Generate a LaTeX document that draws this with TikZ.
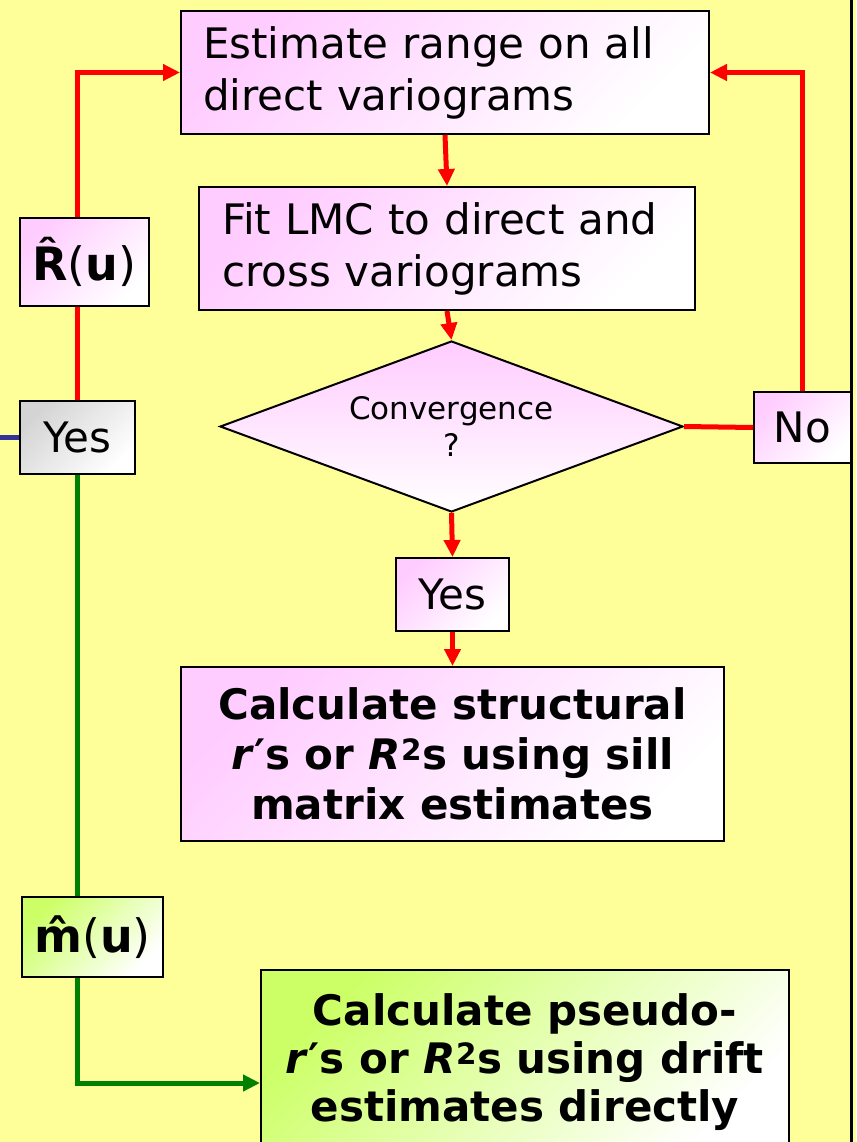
\documentclass[tikz,border=0pt]{standalone}
\usepackage{fontspec}
\setmainfont{DejaVu Sans}
\usetikzlibrary{arrows.meta,shapes.geometric}

\definecolor{slideyellow}{RGB}{255,255,153}
\definecolor{boxpink}{RGB}{255,204,255}
\definecolor{boxgreen}{RGB}{204,255,102}
\definecolor{boxgrey}{RGB}{212,212,212}
\definecolor{flowred}{RGB}{255,0,0}
\definecolor{flowgreen}{RGB}{0,128,0}
\definecolor{flowblue}{RGB}{51,51,153}

\begin{document}
\begin{tikzpicture}[
    x=1pt, y=-1pt, >={Triangle[length=17pt,width=16pt]},
    box/.style={draw=black, line width=2pt, inner sep=0pt, align=center,
      font=\fontsize{42}{52}\selectfont},
    pinkbox/.style={box, top color=boxpink, bottom color=white, shading angle=45},
    greenbox/.style={box, top color=boxgreen, bottom color=white, shading angle=45},
    greybox/.style={box, top color=boxgrey, bottom color=white, shading angle=45},
    redflow/.style={line width=5pt, flowred},
    greenflow/.style={line width=5pt, flowgreen},
  ]
  % --- slide background ---
  \useasboundingbox (0,0) rectangle (856,1142);
  \clip (0,0) rectangle (856,1142);
  \fill[slideyellow] (0,0) rectangle (856,1142);
  \draw[line width=3pt] (851,0) -- (851,1142);

  % --- main loop ---
  \node[pinkbox, align=left, inner xsep=22pt, text width=484pt, minimum height=123pt]
    (est) at (445,72.5) {Estimate range on all\\direct variograms};
  \node[pinkbox, align=left, inner xsep=23pt, text width=450pt, minimum height=123pt]
    (fit) at (447,248.5) {Fit LMC to direct and\\cross variograms};
  \node[diamond, aspect=2.7, draw=black, line width=2pt, top color=boxpink, bottom color=white,
    minimum width=463pt, minimum height=171pt, inner sep=0pt, align=center,
    font=\fontsize{31}{37}\selectfont]
    (conv) at (451.5,426.5) {Convergence\\?};
  \node[pinkbox, minimum width=97pt, minimum height=71pt] (no) at (802.5,427.5) {No};
  \node[pinkbox, minimum width=113pt, minimum height=73pt] (yesC) at (452.5,594.5) {Yes};
  \node[pinkbox, font=\bfseries\fontsize{42}{50}\selectfont,
    minimum width=543pt, minimum height=174pt] (struct) at (452.5,754)
    {Calculate structural\\\textit{r}′s or \textit{R}\textsuperscript{2}s using sill\\matrix estimates};

  % --- left branch ---
  \node[greybox, minimum width=115pt, minimum height=73pt] (yesL) at (77.5,437.5) {Yes};
  \node[greenbox, font=\bfseries\fontsize{42}{48}\selectfont,
    minimum width=528pt, minimum height=184pt] (pseudo) at (525,1062)
    {Calculate pseudo-\\\textit{r}′s or \textit{R}\textsuperscript{2}s using drift\\estimates directly};

  % --- connectors ---
  \coordinate (bluein) at (0,437.5);
  \draw[line width=5pt, flowblue] (bluein) -- (yesL.west);
  \draw[redflow, ->] (yesL.north) |- (est.west);
  \draw[redflow, ->] (no.north) |- (est.east);
  \draw[redflow, ->] (est.south) -- (fit.north);
  \draw[redflow, ->] (fit.south) -- (conv.north);
  \draw[redflow] (conv.east) -- (no.west);
  \draw[redflow, ->] (conv.south) -- (yesC.north);
  \draw[redflow, ->] (yesC.south) -- (struct.north);
  \draw[greenflow, ->] (yesL.south) |- ([yshift=-21pt]pseudo.west);

  % --- estimates sitting on the lines ---
  \node[pinkbox, font=\fontsize{46}{52}\selectfont, minimum width=129pt, minimum height=88pt]
    (rhat) at (84.5,262) {{\bfseries R̂}({\bfseries u})};
  \node[greenbox, font=\fontsize{46}{52}\selectfont, minimum width=141pt, minimum height=80pt]
    (mhat) at (92.5,937) {{\bfseries m̂}({\bfseries u})};
\end{tikzpicture}
\end{document}
